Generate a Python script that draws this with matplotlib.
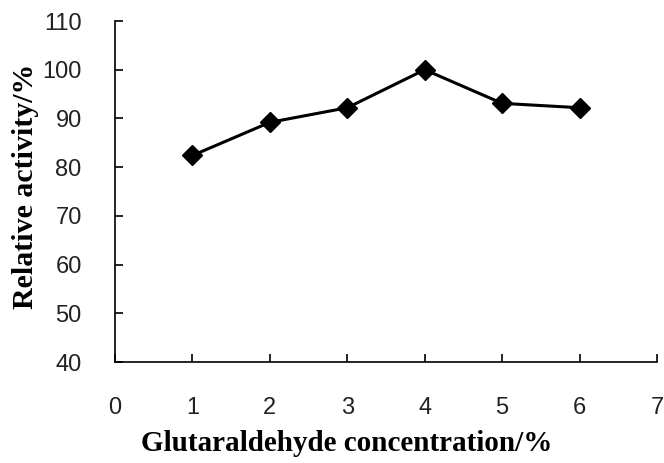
import matplotlib
matplotlib.use("Agg")
import matplotlib.pyplot as plt

# glutaraldehyde concentration (%) vs relative activity (%)
conc = [1, 2, 3, 4, 5, 6]
activity = [82.4, 89.2, 92.2, 100.0, 93.1, 92.2]

xticks = [0, 1, 2, 3, 4, 5, 6, 7]
yticks = [40, 50, 60, 70, 80, 90, 100, 110]

fig = plt.figure(figsize=(6.64, 4.63), dpi=100)
ax = fig.add_axes([0.1732, 0.2181, 0.8163, 0.7365])

ax.plot(conc, activity, '-', color='black', lw=2.2,
        marker='D', markersize=10.5, markerfacecolor='black', markeredgecolor='black')

ax.set_xlim(0, 7)
ax.set_ylim(40, 110)
ax.set_xticks(xticks)
ax.set_yticks(yticks)
ax.set_xticklabels([str(t) for t in xticks], family='Liberation Sans', fontsize=17, color='#222222')
ax.set_yticklabels([str(t) for t in yticks], family='Liberation Sans', fontsize=17, color='#222222')

ax.spines['top'].set_visible(False)
ax.spines['right'].set_visible(False)
for s in ['left', 'bottom']:
    ax.spines[s].set_linewidth(1.2)
ax.tick_params(axis='x', direction='in', length=6, width=1.2, pad=25)
ax.tick_params(axis='y', direction='in', length=6, width=1.2, pad=24)

ax.set_xlabel('Glutaraldehyde concentration/%', family='Liberation Serif',
              fontweight='bold', fontsize=21)
ax.set_ylabel('Relative activity/%', family='Liberation Serif',
              fontweight='bold', fontsize=21.5)
ax.xaxis.set_label_coords(0.428, -0.2)
ax.yaxis.set_label_coords(-0.14, 0.516)

fig.savefig('out.png', dpi=100)
